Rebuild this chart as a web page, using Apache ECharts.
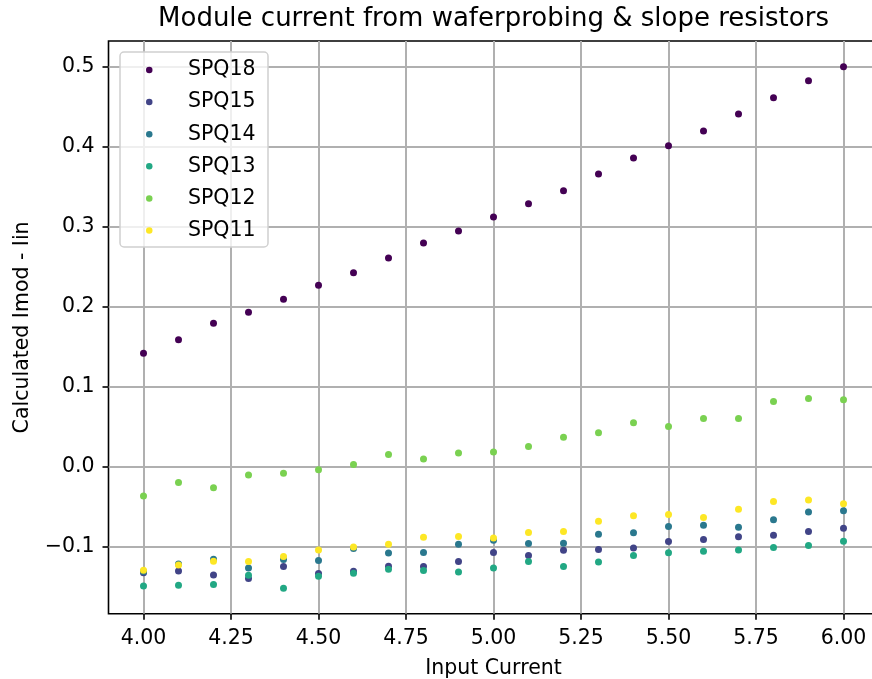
<!DOCTYPE html>
<html>
<head>
<meta charset="utf-8">
<script src="https://cdn.jsdelivr.net/npm/echarts@6/dist/echarts.min.js"></script>
<style>html,body{margin:0;padding:0;background:#fff}#c{width:872px;height:679px}</style>
</head>
<body>
<div id="c"></div>
<script>
const inputCurrent = [4.0,4.1,4.2,4.3,4.4,4.5,4.6,4.7,4.8,4.9,5.0,5.1,5.2,5.3,5.4,5.5,5.6,5.7,5.8,5.9,6.0];
const spq18 = [0.1416,0.1586,0.1791,0.1929,0.2091,0.2266,0.2424,0.2608,0.2795,0.2945,0.3120,0.3286,0.3449,0.3658,0.3858,0.4011,0.4195,0.4408,0.4611,0.4824,0.4999];
const spq15 = [-0.1326,-0.1305,-0.1354,-0.1400,-0.1249,-0.1337,-0.1308,-0.1245,-0.1249,-0.1187,-0.1074,-0.1112,-0.1045,-0.1037,-0.1016,-0.0937,-0.0912,-0.0878,-0.0857,-0.0811,-0.0770];
const spq14 = [-0.1310,-0.1217,-0.1158,-0.1267,-0.1162,-0.1174,-0.1024,-0.1079,-0.1074,-0.0970,-0.0920,-0.0962,-0.0957,-0.0845,-0.0828,-0.0749,-0.0732,-0.0757,-0.0665,-0.0569,-0.0553];
const spq13 = [-0.1493,-0.1483,-0.1475,-0.1358,-0.1520,-0.1370,-0.1333,-0.1283,-0.1300,-0.1316,-0.1266,-0.1187,-0.1249,-0.1191,-0.1112,-0.1078,-0.1058,-0.1041,-0.1012,-0.0987,-0.0932];
const spq12 = [-0.0368,-0.0200,-0.0263,-0.0104,-0.0084,-0.0038,0.0025,0.0150,0.0096,0.0171,0.0184,0.0251,0.0368,0.0422,0.0547,0.0501,0.0601,0.0601,0.0815,0.0852,0.0835];
const spq11 = [-0.1296,-0.1229,-0.1183,-0.1187,-0.1124,-0.1041,-0.1004,-0.0970,-0.0882,-0.0874,-0.0891,-0.0824,-0.0811,-0.0682,-0.0615,-0.0599,-0.0636,-0.0532,-0.0436,-0.0419,-0.0465];

const seriesNames = ['SPQ18','SPQ15','SPQ14','SPQ13','SPQ12','SPQ11'];
const seriesValues = [spq18, spq15, spq14, spq13, spq12, spq11];
const seriesColors = ['#440154','#414487','#2a788e','#22a884','#7ad151','#fde725'];
const xTicks = [4.0,4.25,4.5,4.75,5.0,5.25,5.5,5.75,6.0];
const yTicks = [-0.1,0.0,0.1,0.2,0.3,0.4,0.5];

const FONT = 'DejaVu Sans';
const FS = 20.5;
const chart = echarts.init(document.getElementById('c'), null, {renderer:'canvas'});

function fmtY(v){ const s = Math.abs(v).toFixed(1); return v < -1e-9 ? '\u2212' + s : s; }

const option = {
  animation: false,
  backgroundColor: '#fff',
  textStyle: { fontFamily: FONT },
  grid: { left: 108.5, width: 770, top: 41, height: 572.8, show: true, borderColor: '#000', borderWidth: 1.6,
          backgroundColor: 'transparent', containLabel: false, outerBoundsMode: 'none' },
  graphic: [
    { type: 'text', x: 493.5, y: 6, z: 10,
      style: { text: 'Module current from waferprobing & slope resistors', fontFamily: FONT, fontSize: 26, fill: '#000', align: 'center', verticalAlign: 'top' } },
    { type: 'rect', x: 120, y: 52, z: 5, shape: { width: 148, height: 195, r: 4 },
      style: { fill: 'rgba(255,255,255,0.8)', stroke: '#d0d0d0', lineWidth: 1.5 } }
  ],
  legend: {
    orient: 'vertical', left: 146, top: 59.5, z: 6, padding: 0,
    itemWidth: 6.5, itemHeight: 6.5, itemGap: 11.1,
    icon: 'circle',
    textStyle: { fontFamily: FONT, fontSize: FS, color: '#000', lineHeight: 20.5, padding: [0, 0, 0, 30.5] },
    data: seriesNames
  },
  xAxis: {
    type: 'value', min: 3.9, max: 6.1,
    name: 'Input Current', nameLocation: 'middle', nameGap: 44,
    nameTextStyle: { fontFamily: FONT, fontSize: FS, color: '#000' },
    axisLine: { show: false, onZero: false },
    axisTick: { show: true, inside: false, length: 6, lineStyle: { color: '#000', width: 1.6 }, customValues: xTicks },
    axisLabel: { show: true, margin: 14, fontFamily: FONT, fontSize: FS, color: '#000', customValues: xTicks, formatter: v => v.toFixed(2) },
    splitLine: { show: true, lineStyle: { color: '#b0b0b0', width: 2 } }
  },
  yAxis: {
    type: 'value', min: -0.184, max: 0.532,
    name: 'Calculated Imod - Iin', nameLocation: 'middle', nameGap: 75, nameRotate: 90,
    nameTextStyle: { fontFamily: FONT, fontSize: FS, color: '#000' },
    axisLine: { show: false, onZero: false },
    axisTick: { show: true, inside: false, length: 6, lineStyle: { color: '#000', width: 1.6 }, customValues: yTicks },
    axisLabel: { show: true, margin: 14, fontFamily: FONT, fontSize: FS, color: '#000', customValues: yTicks, formatter: fmtY },
    splitLine: { show: true, lineStyle: { color: '#b0b0b0', width: 2 } }
  },
  series: seriesNames.map((n, i) => ({
    name: n, type: 'scatter', symbol: 'circle', symbolSize: 7,
    itemStyle: { color: seriesColors[i], opacity: 1 },
    data: inputCurrent.map((x, j) => [x, seriesValues[i][j]]),
    z: 3 + i * 0.01
  }))
};
chart.setOption(option);
</script>
</body>
</html>
